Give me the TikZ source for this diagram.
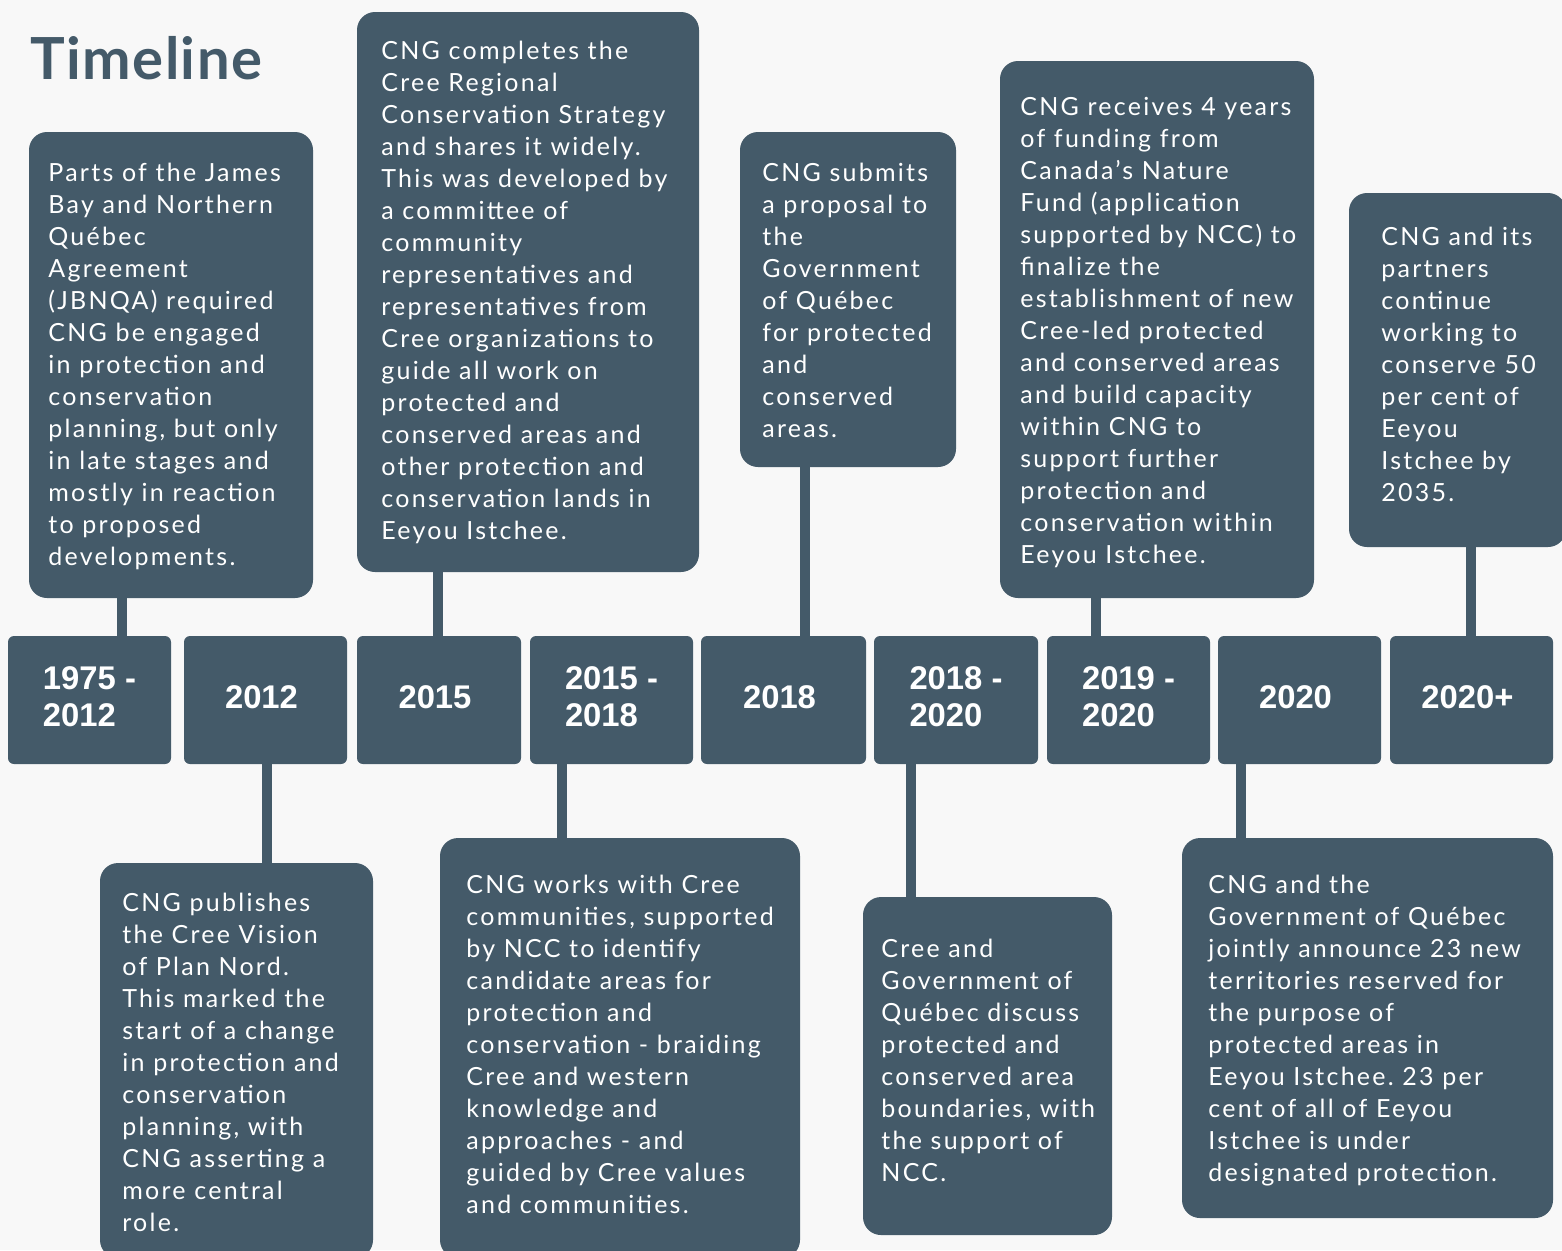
\documentclass[tikz,border=0pt]{standalone}
\usepackage{fontspec}
\usetikzlibrary{fit}
\newfontfamily\bodyfont[LetterSpace=9]{Lato}
\newfontfamily\titlefont[LetterSpace=2.5]{Lato}
\newfontfamily\yearfont{Liberation Sans}
\definecolor{slate}{HTML}{445A69}
\definecolor{bgc}{HTML}{F8F8F8}
\frenchspacing
\tikzset{
  tbox/.style={fill=slate, rounded corners=9pt, inner sep=0pt, draw=none},
  ybox/.style={fill=slate, rounded corners=3pt, inner sep=0pt, draw=none},
  ylab/.style={text=white, inner sep=0pt, align=left, yshift=1.5pt,
    font=\yearfont\bfseries\fontsize{16.4}{18.5}\selectfont},
  ylab1/.style={ylab, xshift=-2pt},
  body/.style={text=white, inner sep=0pt, align=left, anchor=base west,
    font=\bodyfont\fontsize{12.5}{16}\selectfont\frenchspacing},
  conn/.style={draw=slate, line width=5pt}
}
\begin{document}
\begin{tikzpicture}[x=0.5pt,y=-0.5pt]
\useasboundingbox (0,0) rectangle (1562,1250);
\fill[bgc] (0,0) rectangle (1562,1250);

\node[text=slate, inner sep=0pt, anchor=base west, font=\titlefont\bfseries\fontsize{29}{32}\selectfont] (title) at (30,79) {Timeline};

% year boxes
\node[ybox, fit={(8,636) (171,764)}] (Y1) {};
\node[ybox, fit={(184,636) (347,764)}] (Y2) {};
\node[ybox, fit={(357,636) (521,764)}] (Y3) {};
\node[ybox, fit={(530,636) (693,764)}] (Y4) {};
\node[ybox, fit={(701,636) (866,764)}] (Y5) {};
\node[ybox, fit={(874,636) (1038,764)}] (Y6) {};
\node[ybox, fit={(1047,636) (1210,764)}] (Y7) {};
\node[ybox, fit={(1218,636) (1381,764)}] (Y8) {};
\node[ybox, fit={(1390,636) (1553,764)}] (Y9) {};
\node[ylab] (L1) at (Y1) {1975 -\\2012};
\node[ylab1] (L2) at (Y2) {2012};
\node[ylab1] (L3) at (Y3) {2015};
\node[ylab] (L4) at (Y4) {2015 -\\2018};
\node[ylab1] (L5) at (Y5) {2018};
\node[ylab] (L6) at (Y6) {2018 -\\2020};
\node[ylab] (L7) at (Y7) {2019 -\\2020};
\node[ylab1] (L8) at (Y8) {2020};
\node[ylab1] (L9) at (Y9) {2020+};

% text boxes
\node[tbox, fit={(29,132) (313,598)}] (A) {};
\node[tbox, fit={(357,12) (699,572)}] (B) {};
\node[tbox, fit={(740,132) (956,467)}] (C) {};
\node[tbox, fit={(1000,61) (1314,598)}] (D) {};
\node[tbox, fit={(1349,193) (1566,547)}] (E) {};
\node[tbox, fit={(100,863) (373,1258)}] (F) {};
\node[tbox, fit={(440,838) (800,1258)}] (G) {};
\node[tbox, fit={(863,897) (1112,1235)}] (H) {};
\node[tbox, fit={(1182,838) (1553,1218)}] (I) {};

% connector x positions
\coordinate (c1) at (122,0);
\coordinate (c2) at (267,0);
\coordinate (c3) at (438,0);
\coordinate (c4) at (562,0);
\coordinate (c5) at (805,0);
\coordinate (c6) at (911,0);
\coordinate (c7) at (1096,0);
\coordinate (c8) at (1241,0);
\coordinate (c9) at (1471,0);

\draw[conn] (A.south -| c1) -- (Y1.north -| c1);
\draw[conn] (Y2.south -| c2) -- (F.north -| c2);
\draw[conn] (B.south -| c3) -- (Y3.north -| c3);
\draw[conn] (Y4.south -| c4) -- (G.north -| c4);
\draw[conn] (C.south -| c5) -- (Y5.north -| c5);
\draw[conn] (Y6.south -| c6) -- (H.north -| c6);
\draw[conn] (D.south -| c7) -- (Y7.north -| c7);
\draw[conn] (Y8.south -| c8) -- (I.north -| c8);
\draw[conn] (E.south -| c9) -- (Y9.north -| c9);

% texts (anchored at the baseline of their last line)
\node[body] (tA) at (48,565) {Parts of the James\\Bay and Northern\\Québec\\Agreement\\(JBNQA) required\\CNG be engaged\\in protection and\\conservation\\planning, but only\\in late stages and\\mostly in reaction\\to proposed\\developments.};
\node[body] (tB) at (381,539) {CNG completes the\\Cree Regional\\Conservation Strategy\\and shares it widely.\\This was developed by\\a committee of\\community\\representatives and\\representatives from\\Cree organizations to\\guide all work on\\protected and\\conserved areas and\\other protection and\\conservation lands in\\Eeyou Istchee.};
\node[body] (tC) at (762,437) {CNG submits\\a proposal to\\the\\Government\\of Québec\\for protected\\and\\conserved\\areas.};
\node[body] (tD) at (1020,563) {CNG receives 4 years\\of funding from\\Canada’s Nature\\Fund (application\\supported by NCC) to\\finalize the\\establishment of new\\Cree-led protected\\and conserved areas\\and build capacity\\within CNG to\\support further\\protection and\\conservation within\\Eeyou Istchee.};
\node[body] (tE) at (1381,501) {CNG and its\\partners\\continue\\working to\\conserve 50\\per cent of\\Eeyou\\Istchee by\\2035.};
\node[body] (tF) at (122,1231) {CNG publishes\\the Cree Vision\\of Plan Nord.\\This marked the\\start of a change\\in protection and\\conservation\\planning, with\\CNG asserting a\\more central\\role.};
\node[body] (tG) at (466,1213) {CNG works with Cree\\communities, supported\\by NCC to identify\\candidate areas for\\protection and\\conservation - braiding\\Cree and western\\knowledge and\\approaches - and\\guided by Cree values\\and communities.};
\node[body] (tH) at (881,1181) {Cree and\\Government of\\Québec discuss\\protected and\\conserved area\\boundaries, with\\the support of\\NCC.};
\node[body] (tI) at (1208,1181) {CNG and the\\Government of Québec\\jointly announce 23 new\\territories reserved for\\the purpose of\\protected areas in\\Eeyou Istchee. 23 per\\cent of all of Eeyou\\Istchee is under\\designated protection.};
\end{tikzpicture}
\end{document}
